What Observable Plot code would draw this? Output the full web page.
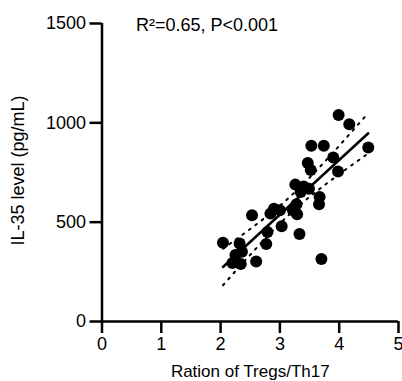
<!DOCTYPE html>
<html><head><meta charset="utf-8">
<script src="https://cdn.jsdelivr.net/npm/d3@7"></script>
<script src="https://cdn.jsdelivr.net/npm/@observablehq/plot@0.6"></script>
<style>body{margin:0;background:#fff;}</style>
</head><body><div id="chart"></div>
<script>
const ratio = [3.99, 4.17, 4.49, 3.53, 3.74, 3.90, 3.47, 3.52, 3.98, 3.26, 3.40, 3.35, 3.49, 3.67, 3.66, 3.28, 3.22, 3.29, 2.90, 3.00, 2.84, 2.53, 3.03, 2.79, 3.33, 2.77, 2.04, 2.32, 2.36, 2.25, 2.60, 2.20, 2.34, 3.70];
const il35  = [1040, 993, 876, 885, 885, 826, 798, 763, 755, 689, 680, 652, 668, 627, 590, 590, 560, 540, 568, 560, 543, 535, 480, 451, 440, 390, 396, 393, 351, 335, 302, 294, 290, 315];
const xTicks = [0, 1, 2, 3, 4, 5];
const yTicks = [0, 500, 1000, 1500];
const statLabel = "R²=0.65, P<0.001";
const xLabel = "Ration of Tregs/Th17";
const yLabel = "IL-35 level (pg/mL)";

const points = ratio.map((x, i) => ({x, y: il35[i]}));
// least-squares fit and 95% confidence band of the mean
const n = points.length;
const mx = d3.mean(ratio), my = d3.mean(il35);
const sxx = d3.sum(ratio, x => (x - mx) ** 2);
const sxy = d3.sum(points, d => (d.x - mx) * (d.y - my));
const b = sxy / sxx, a = my - b * mx;
const s = Math.sqrt(d3.sum(points, d => (d.y - a - b * d.x) ** 2) / (n - 2));
const tCrit = 2.037;
const [xMin, xMax] = d3.extent(ratio);
const steps = 40;
const band = d3.range(steps + 1).map(i => {
  const x = xMin + (xMax - xMin) * i / steps;
  const fit = a + b * x;
  const h = tCrit * s * Math.sqrt(1 / n + (x - mx) ** 2 / sxx);
  return {x, fit, lo: fit - h, hi: fit + h};
});

const font = "'Liberation Sans', Arial, Helvetica, sans-serif";
const chart = Plot.plot({
  width: 402, height: 381,
  marginLeft: 101.5, marginRight: 4, marginTop: 23, marginBottom: 60,
  x: {domain: [xTicks[0], xTicks[xTicks.length - 1]]},
  y: {domain: [yTicks[0], yTicks[yTicks.length - 1]]},
  style: {fontFamily: font, fontSize: "18px", color: "#000", background: "#fff", overflow: "visible"},
  marks: [
    Plot.line(band, {x: "x", y: "hi", stroke: "#000", strokeWidth: 2, strokeDasharray: "2 6"}),
    Plot.line(band, {x: "x", y: "lo", stroke: "#000", strokeWidth: 2, strokeDasharray: "2 6"}),
    Plot.dot(points, {x: "x", y: "y", r: 6, fill: "#000", stroke: "none"}),
    Plot.line([band[0], band[band.length - 1]], {x: "x", y: "fit", stroke: "#000", strokeWidth: 2.5}),
    Plot.axisX({ticks: xTicks, tickSize: 12, tickPadding: 4, strokeWidth: 2.5, fontSize: 18, label: null, tickFormat: d => String(d)}),
    Plot.axisY({ticks: yTicks, tickSize: 12, tickPadding: 4, strokeWidth: 2.5, fontSize: 18, label: null, tickFormat: d => String(d)}),
    Plot.ruleY([yTicks[0]], {x1: xTicks[0], x2: xTicks[xTicks.length - 1], stroke: "#000", strokeWidth: 2.5}),
    Plot.ruleX([xTicks[0]], {y1: yTicks[0], y2: yTicks[yTicks.length - 1], stroke: "#000", strokeWidth: 2.5}),
    Plot.text([statLabel], {frameAnchor: "top-left", dx: 34, dy: 1.5, textAnchor: "start", lineAnchor: "middle", fontSize: 18}),
    Plot.text([xLabel], {frameAnchor: "bottom", dy: 50, textAnchor: "middle", lineAnchor: "middle", fontSize: 17}),
    Plot.text([yLabel], {frameAnchor: "left", dx: -84, dy: -2, rotate: -90, textAnchor: "middle", lineAnchor: "middle", fontSize: 18})
  ]
});
document.getElementById("chart").appendChild(chart);
</script>
</body></html>
